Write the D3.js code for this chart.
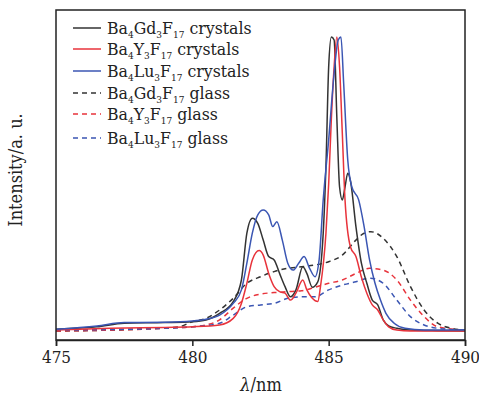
<!DOCTYPE html>
<html><head><meta charset="utf-8">
<script src="https://cdn.jsdelivr.net/npm/d3@7"></script>
<style>body{margin:0;background:#fff}svg{display:block}svg text{font-stretch:condensed}</style>
</head><body><svg id="c" width="479" height="397"></svg>
<script>
const xTicks = [475, 480, 485, 490];
const seriesNames = ["Ba4Gd3F17 crystals","Ba4Y3F17 crystals","Ba4Lu3F17 crystals","Ba4Gd3F17 glass","Ba4Y3F17 glass","Ba4Lu3F17 glass"];
const gdCrystal = [[475,3.6],[476.5,4.4],[477.5,5.6],[479,5.8],[480,6.1],[480.5,6.7],[481,8.9],[481.5,12.8],[481.8,20],[482.0,35.6],[482.2,40.6],[482.4,38.9],[482.6,33.3],[482.8,27.8],[483.0,26.7],[483.2,22.2],[483.4,17.8],[483.6,14.4],[483.8,16.7],[484.05,24.4],[484.2,22.2],[484.4,17.6],[484.6,19.4],[484.8,35.6],[484.9,57.8],[485.0,91],[485.1,101],[485.2,100],[485.3,74],[485.4,51],[485.5,46.7],[485.6,51],[485.7,55.6],[485.8,53],[486.0,37.8],[486.2,25.6],[486.4,18.9],[486.6,13.3],[486.8,11.7],[487.0,6.7],[487.2,4.7],[487.5,3.9],[488,3.3],[489,3.1],[490,3.0]];
const yCrystal = [[475,3.3],[477,3.9],[479,4.2],[480,4.4],[481,5],[481.5,7.2],[481.8,12.2],[482.0,18.9],[482.2,26.7],[482.45,29.8],[482.6,28.3],[482.8,22.2],[483.0,17.8],[483.2,16.1],[483.4,15.6],[483.6,13.3],[483.8,15.6],[484.05,20],[484.2,16.7],[484.4,13.9],[484.6,12.8],[484.7,17.8],[484.9,35.6],[485.0,52],[485.1,74],[485.2,91],[485.3,101],[485.4,91],[485.5,69],[485.6,46.7],[485.8,31],[486.0,27.8],[486.2,21],[486.4,15.6],[486.6,11.7],[486.8,10],[487.0,6.7],[487.2,4.4],[487.5,3.3],[488,3.0],[490,3.0]];
const luCrystal = [[475,3.6],[476.5,4.7],[477.5,5.8],[479,5.9],[480,6.3],[480.5,6.9],[481,8.3],[481.5,12.2],[481.8,16.7],[482.0,25.6],[482.2,35.6],[482.4,41.7],[482.6,43.3],[482.8,41.7],[482.95,37.8],[483.1,39.4],[483.3,33.3],[483.5,25.6],[483.7,23.3],[483.9,25.6],[484.1,27.8],[484.3,23.9],[484.5,21.1],[484.65,26.7],[484.8,46.7],[485.0,66.7],[485.2,88.9],[485.35,100],[485.45,101],[485.55,85.6],[485.7,60],[485.85,51],[486.1,46.7],[486.3,37.8],[486.5,26.7],[486.7,18.9],[486.9,13.3],[487.1,8.9],[487.4,5.6],[487.8,3.9],[488.5,3.3],[490,3.3]];
const gdGlass = [[475,3.0],[478,3.6],[479.5,4.4],[480,6.1],[480.5,7.2],[481,10],[481.5,13.9],[482,18.9],[482.5,21.1],[483,22.8],[483.5,23.9],[484,24.4],[484.5,25],[485,26.1],[485.5,28.3],[486,33.3],[486.3,35.6],[486.55,36.1],[487,33.9],[487.5,27.8],[488,17.8],[488.5,10],[489,5.6],[489.5,3.9],[490,3.3]];
const yGlass = [[475,3],[479,3.9],[480,4.4],[480.5,5],[481,6.7],[481.5,10.6],[482,13.9],[482.5,15.3],[483,15.8],[483.5,16.1],[484,16.4],[484.5,17.6],[485,18.9],[485.5,20],[486,22.2],[486.5,23.9],[487,23.3],[487.5,20],[488,13.3],[488.5,7.8],[489,4.4],[490,3.3]];
const luGlass = [[475,3.3],[479,3.9],[480,4.4],[481,5.6],[481.5,8.3],[482,11.1],[482.5,11.7],[483,12.2],[483.5,13.9],[484,14.4],[484.5,14.4],[485,16.7],[485.5,18.3],[486,19.4],[486.5,20.6],[487,18.9],[487.5,13.3],[488,7.8],[488.5,5],[489,3.9],[490,3.3]];

const series = [
  {name:seriesNames[0], data:gdCrystal, color:"#333333", dash:null},
  {name:seriesNames[1], data:yCrystal, color:"#e8333b", dash:null},
  {name:seriesNames[2], data:luCrystal, color:"#3b56b3", dash:null},
  {name:seriesNames[3], data:gdGlass, color:"#333333", dash:"5,4"},
  {name:seriesNames[4], data:yGlass, color:"#e8333b", dash:"5,4"},
  {name:seriesNames[5], data:luGlass, color:"#3b56b3", dash:"5,4"}
];

const FONT = "'DejaVu Serif Condensed', 'DejaVu Serif', serif";
const svg = d3.select("#c");
const L=56, R=465, T=10, B=340;
const x = d3.scaleLinear().domain([475,490]).range([L,R]);
const y = d3.scaleLinear().domain([0,110]).range([B,T]);

svg.append("clipPath").attr("id","cl").append("rect").attr("x",L).attr("y",T).attr("width",R-L).attr("height",B-T);
const line = d3.line().x(d=>x(d[0])).y(d=>y(d[1])).curve(d3.curveMonotoneX);
const g = svg.append("g").attr("clip-path","url(#cl)");
[3,4,5,0,1,2].forEach(i=>{
  const s=series[i];
  g.append("path").datum(s.data).attr("d",line).attr("fill","none").attr("stroke",s.color)
   .attr("stroke-width",1.5).attr("stroke-dasharray",s.dash);
});

svg.append("rect").attr("x",L).attr("y",T).attr("width",R-L).attr("height",B-T)
  .attr("fill","none").attr("stroke","#222").attr("stroke-width",1.5);
const ax = svg.append("g").attr("transform",`translate(0,${B})`)
  .call(d3.axisBottom(x).tickValues(xTicks).tickSize(6).tickPadding(5).tickFormat(d3.format("d")));
ax.attr("font-family",FONT).attr("font-size",17);
ax.select(".domain").attr("stroke","#222").attr("stroke-width",1.5);
ax.selectAll(".tick line").attr("stroke","#222").attr("stroke-width",1.5);
ax.selectAll(".tick text").attr("fill","#222");

svg.append("text").attr("x",261).attr("y",391).attr("text-anchor","middle")
  .attr("font-family",FONT).attr("font-size",18).attr("fill","#222")
  .html('<tspan font-style="italic">λ</tspan>/nm');
svg.append("text").attr("transform","translate(22,170) rotate(-90)").attr("text-anchor","middle")
  .attr("font-family",FONT).attr("font-size",18).attr("fill","#222")
  .text("Intensity/a. u.");

const legY=[28,49,71,93,114,138];
series.forEach((s,i)=>{
  const yy=legY[i];
  svg.append("line").attr("x1",73).attr("x2",101).attr("y1",yy).attr("y2",yy).attr("stroke",s.color)
    .attr("stroke-width",1.5).attr("stroke-dasharray",s.dash);
  const m = s.name.match(/^Ba4(\w+?)3F17 (\w+)$/);
  const t = svg.append("text").attr("x",107).attr("y",yy+6).attr("font-family",FONT).attr("font-size",17.5).attr("fill","#222");
  t.append("tspan").text("Ba");
  t.append("tspan").attr("dy",3.5).attr("font-size",10).text("4");
  t.append("tspan").attr("dy",-3.5).text(m[1]);
  t.append("tspan").attr("dy",3.5).attr("font-size",10).text("3");
  t.append("tspan").attr("dy",-3.5).text("F");
  t.append("tspan").attr("dy",3.5).attr("font-size",10).text("17");
  t.append("tspan").attr("dy",-3.5).text(" "+m[2]);
});
</script></body></html>
